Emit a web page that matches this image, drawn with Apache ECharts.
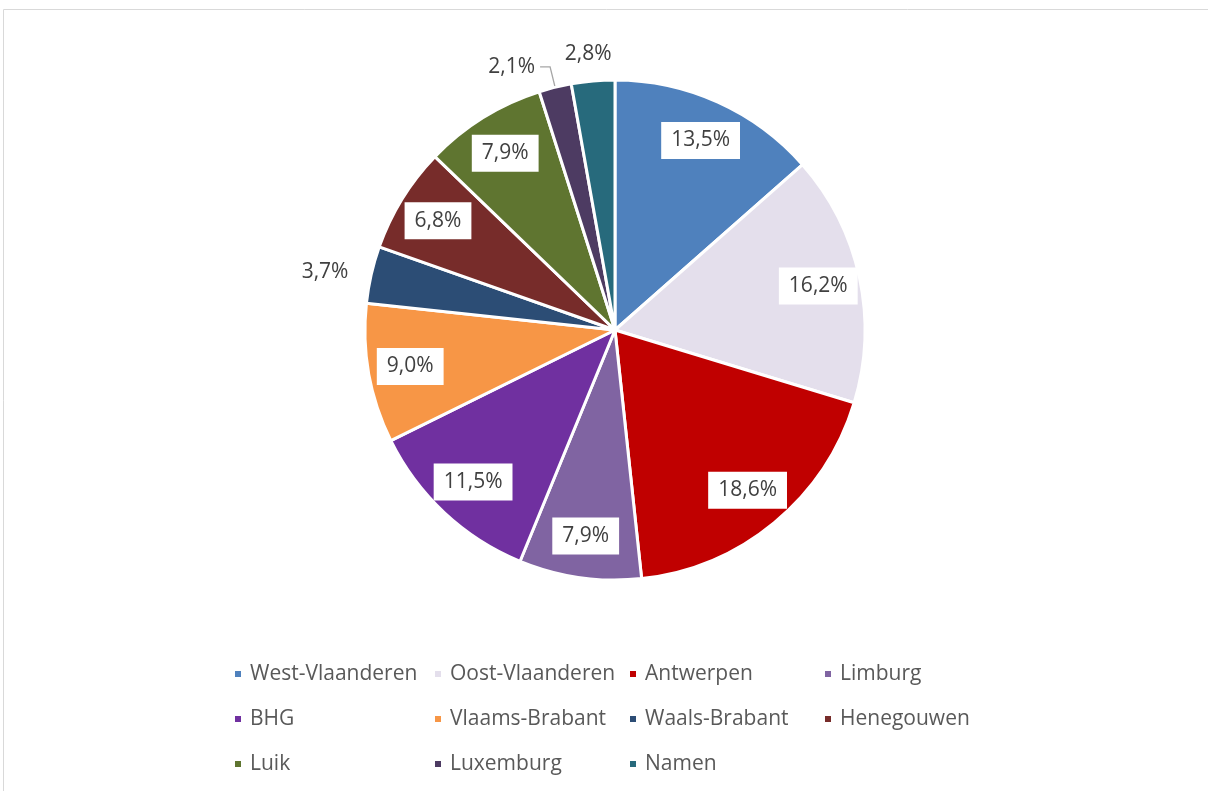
<!DOCTYPE html>
<html>
<head>
<meta charset="utf-8">
<script src="https://cdn.jsdelivr.net/npm/echarts@6/dist/echarts.min.js"></script>
<style>
  html, body { margin: 0; padding: 0; background: #fff; }
  #chart { width: 1208px; height: 791px; }
</style>
</head>
<body>
<div id="chart"></div>
<script>
// provincies en aandeel (%)
const categories = ['West-Vlaanderen', 'Oost-Vlaanderen', 'Antwerpen', 'Limburg', 'BHG', 'Vlaams-Brabant',
  'Waals-Brabant', 'Henegouwen', 'Luik', 'Luxemburg', 'Namen']
const values = [13.5, 16.2, 18.6, 7.9, 11.5, 9.0, 3.7, 6.8, 7.9, 2.1, 2.8]
const colors = ['#4F81BD', '#E4DFEC', '#C00000', '#8064A2', '#7030A0', '#F79646',
  '#2C4D75', '#772C2A', '#5F7530', '#4D3B62', '#276A7C']
// labels die buiten de taart staan
const outsideA = ['Waals-Brabant', 'Luxemburg']
const outsideB = ['Namen']

const font = 'Open Sans'
const fmt = v => v.toFixed(1).replace('.', ',') + '%'

const chart = echarts.init(document.getElementById('chart'))

// slices (met de kleine labels buiten)
const sliceData = categories.map((name, i) => {
  const out = outsideA.includes(name)
  return {
    name,
    value: values[i],
    itemStyle: { color: colors[i] },
    label: { show: out },
    labelLine: {
      show: name === 'Luxemburg',
      length: name === 'Luxemburg' ? 21 : 10,
      length2: name === 'Luxemburg' ? 10 : 8
    }
  }
})

// transparante ring, alleen voor de labels binnenin
const labelData = categories.map((name, i) => {
  const out = outsideB.includes(name)
  return {
    name,
    value: values[i],
    label: out
      ? { show: true, position: 'outside', backgroundColor: 'transparent', padding: 0, offset: [26, 0] }
      : { show: !outsideA.includes(name) },
    labelLine: { show: false, length: 27, length2: 0 }
  }
})

// legenda in 4 kolommen
const colX = [228, 428, 623, 818]
const legends = colX.map((x, col) => ({
  left: x,
  top: 658,
  orient: 'vertical',
  icon: 'rect',
  itemWidth: 8,
  itemHeight: 8,
  itemGap: 23,
  selectedMode: false,
  textStyle: { fontFamily: font, fontSize: 21, color: '#595959', lineHeight: 22, padding: [0, 0, 0, 3] },
  data: categories.filter((_, i) => i % 4 === col)
}))

chart.setOption({
  animation: false,
  color: colors,
  legend: legends,
  graphic: [{
    type: 'rect',
    shape: { x: 3.5, y: 9.5, width: 1300, height: 900 },
    style: { fill: 'none', stroke: '#D9D9D9', lineWidth: 1 },
    silent: true
  }],
  series: [
    {
      type: 'pie',
      center: [615, 330],
      radius: 250,
      startAngle: 90,
      avoidLabelOverlap: false,
      itemStyle: { borderColor: '#fff', borderWidth: 3 },
      label: {
        position: 'outside',
        fontFamily: font,
        fontSize: 21,
        color: '#404040',
        formatter: p => fmt(p.value)
      },
      labelLine: { lineStyle: { color: '#A6A6A6', width: 1.3 } },
      emphasis: { disabled: true },
      data: sliceData
    },
    {
      type: 'pie',
      center: [615, 330],
      radius: [160, 250],
      startAngle: 90,
      silent: true,
      avoidLabelOverlap: false,
      itemStyle: { color: 'rgba(0,0,0,0)' },
      label: {
        position: 'inside',
        fontFamily: font,
        fontSize: 21,
        color: '#404040',
        backgroundColor: '#fff',
        padding: [9, 10, 7, 10],
        formatter: p => fmt(p.value)
      },
      data: labelData
    }
  ]
})
</script>
</body>
</html>
